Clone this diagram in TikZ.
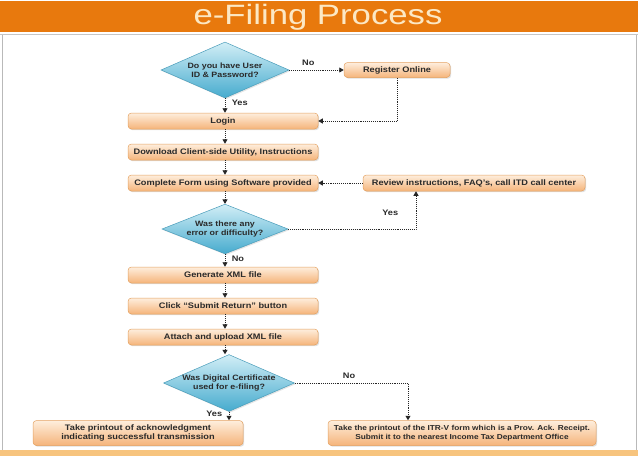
\documentclass[tikz,border=0pt]{standalone}
\usepackage{fontspec}
\setmainfont{Liberation Sans}[FakeStretch=1.15]
\newfontfamily\titlefont{Liberation Sans}[FakeStretch=1.24]
\usetikzlibrary{shapes.geometric,arrows.meta,shadows}
\definecolor{titleor}{HTML}{E8790D}
\definecolor{titletx}{HTML}{FCE8C4}
\definecolor{boxedge}{HTML}{E4A160}
\definecolor{boxtop}{HTML}{FEEEDD}
\definecolor{boxbot}{HTML}{F5B47A}
\definecolor{dedge}{HTML}{4A9DBA}
\definecolor{dtop}{HTML}{D2EEF6}
\definecolor{dbot}{HTML}{46ABCE}
\definecolor{txt}{HTML}{2A2A2A}
\definecolor{footbar}{HTML}{F7C47E}
\tikzset{
  proc/.style={rectangle, rounded corners=3.5pt, draw=boxedge, line width=0.5pt,
    top color=boxtop, bottom color=boxbot, text=txt,
    font=\fontsize{8}{9.4}\selectfont\bfseries, align=center,
    inner sep=1pt, drop shadow={shadow xshift=1.2pt, shadow yshift=-1.2pt, opacity=0.25}},
  dec/.style={diamond, aspect=2.3, draw=dedge, line width=0.5pt,
    top color=dtop, bottom color=dbot, text=txt,
    font=\fontsize{7.7}{9.2}\selectfont\bfseries, align=center, inner sep=0pt,
    drop shadow={shadow xshift=1.2pt, shadow yshift=-1.2pt, opacity=0.2}},
  flow/.style={densely dotted, line width=0.9pt, draw=black!85,
    -{Triangle[length=4.5pt,width=5pt]}},
  lbl/.style={font=\fontsize{8}{9.4}\selectfont\bfseries, text=txt}
}
\begin{document}
\begin{tikzpicture}[x=1pt,y=-1pt]
\useasboundingbox (0,0) rectangle (638,456);
% frame
\fill[white] (0,0) rectangle (638,456);
\draw[gray!55, line width=0.8pt] (2,34) rectangle (636,452);
\fill[titleor] (0,1) rectangle (638,32);
\draw[gray!45, line width=1pt] (0,34) -- (638,34);
\node[text=titletx, font=\titlefont\fontsize{28}{30}\selectfont] (title) at (318,17) {e-Filing Process};
\fill[footbar] (0,450) rectangle (638,456);

% nodes
\node[dec, minimum width=128pt, minimum height=56pt] (d1) at (225,70) {Do you have User\\ID \& Password?};
\node[proc, minimum width=106pt, minimum height=15pt] (reg) at (397,70) {Register Online};
\node[proc, minimum width=190pt, minimum height=16pt] (login) at (223,121) {Login};
\node[proc, minimum width=190pt, minimum height=16pt] (dl) at (223,152) {Download Client-side Utility, Instructions};
\node[proc, minimum width=190pt, minimum height=16pt] (cf) at (223,183) {Complete Form using Software provided};
\node[proc, minimum width=222pt, minimum height=16pt] (rev) at (474,183) {Review instructions, FAQ's, call ITD call center};
\node[dec, minimum width=126pt, minimum height=46pt] (d2) at (225,229) {Was there any\\error or difficulty?};
\node[proc, minimum width=190pt, minimum height=16pt] (gen) at (223,275) {Generate XML file};
\node[proc, minimum width=190pt, minimum height=16pt] (sub) at (223,306) {Click ``Submit Return'' button};
\node[proc, minimum width=190pt, minimum height=16pt] (att) at (223,337) {Attach and upload XML file};
\node[dec, minimum width=126pt, minimum height=50pt] (d3) at (229,383) {Was Digital Certificate\\used for e-filing?};
\node[proc, minimum width=210pt, minimum height=25pt] (ack) at (138,433) {Take printout of acknowledgment\\indicating successful transmission};
\node[proc, minimum width=268pt, minimum height=25pt, font=\fontsize{7.2}{9}\selectfont\bfseries] (itr) at (462,433) {Take the printout of the ITR-V form which is a Prov. Ack. Receipt.\\Submit it to the nearest Income Tax Department Office};

\coordinate (revx) at (416,0);
\coordinate (itrx) at (408,0);

% connectors
\draw[flow] (d1.east) -- node[lbl, above=1pt, pos=0.35] {No} (reg.west);
\draw[flow] (reg.south) |- (login.east);
\draw[flow] (d1.south) -- node[lbl, right=3pt, pos=0.3] {Yes} (d1.south |- login.north);
\draw[flow] (d1.south |- login.south) -- (d1.south |- dl.north);
\draw[flow] (d1.south |- dl.south) -- (d1.south |- cf.north);
\draw[flow] (rev.west) -- (cf.east);
\draw[flow] (d1.south |- cf.south) -- (d2.north);
\draw[flow] (d2.east) -| node[lbl, pos=0.71, left=14pt] {Yes} (rev.south -| revx);
\draw[flow] (d2.south) -- node[lbl, right=3pt, pos=0.35] {No} (d2.south |- gen.north);
\draw[flow] (d2.south |- gen.south) -- (d2.south |- sub.north);
\draw[flow] (d2.south |- sub.south) -- (d2.south |- att.north);
\draw[flow] (d2.south |- att.south) -- (d2.south |- d3.north);
\draw[flow] (d3.east) -| node[lbl, pos=0.24, above=1pt] {No} (itr.north -| itrx);
\draw[flow] (d3.south) -- node[lbl, left=3pt, pos=0.3] {Yes} (d3.south |- ack.north);
\end{tikzpicture}
\end{document}
